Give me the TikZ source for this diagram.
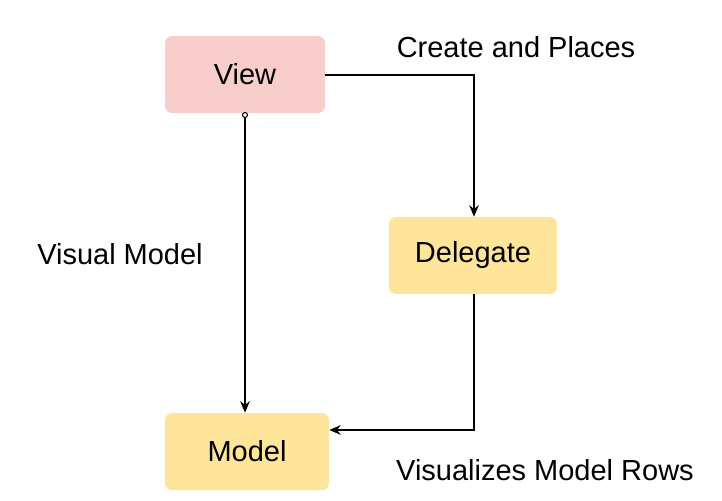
\documentclass[tikz,border=0pt]{standalone}
\usepackage{fontspec}
\setmainfont{Liberation Sans}
\usetikzlibrary{arrows.meta}
\definecolor{pinkf}{HTML}{F8CECC}
\definecolor{yelf}{HTML}{FFE599}
\begin{document}
\begin{tikzpicture}[x=0.02cm,y=-0.02cm,
 box/.style={draw=none,rounded corners=4pt,minimum width=3.2cm,minimum height=1.54cm,font=\fontsize{16.5}{19}\selectfont},
 lbl/.style={font=\fontsize{16.5}{19}\selectfont},
 arr/.style={-{Stealth[length=6.5pt,width=5.5pt]},line width=0.6pt}]
\useasboundingbox (0,0) rectangle (722,500);
\node[box,fill=pinkf] (view) at (245,74.5) {View};
\node[box,fill=yelf,minimum width=3.36cm] (del) at (473,255.5) {Delegate};
\node[box,fill=yelf,minimum width=3.28cm] (model) at (247,451.5) {Model};
\coordinate (c1) at (474,75);
\coordinate (c2) at (474,430);
\draw[arr] (view.east |- 0,75) -- (c1) -- (del.north -| c1);
\draw[arr] (del.south -| c2) -- (c2) -- (model.east |- c2);
\draw[arr] (245,117) -- (model.north -| 245,0);
\draw[line width=0.6pt,fill=white] (245,115) circle (2.5);
\node[lbl] (t1) at (516,47) {Create and Places};
\node[lbl] (t2) at (120,254) {Visual Model};
\node[lbl] (t3) at (545,470) {Visualizes Model Rows};
\end{tikzpicture}
\end{document}
